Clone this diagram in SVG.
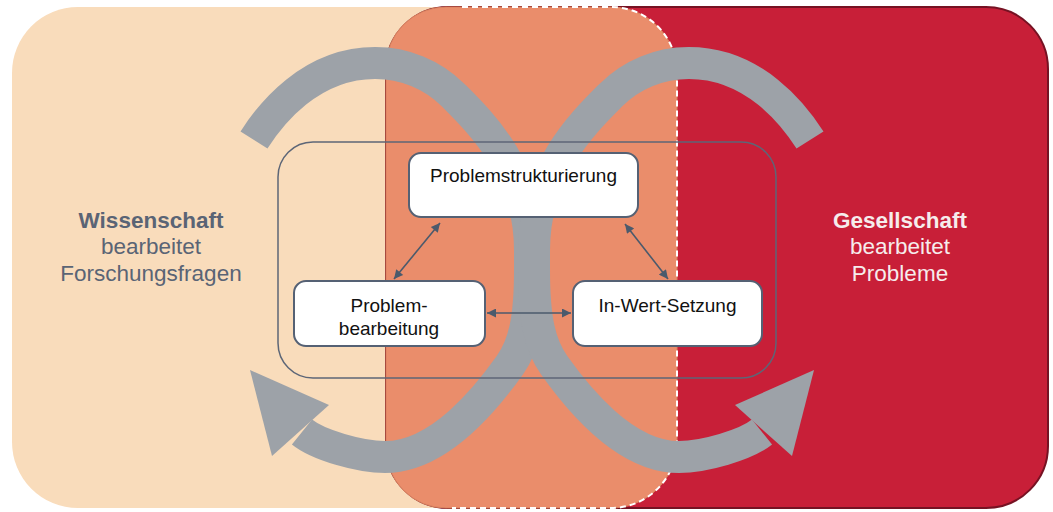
<svg xmlns="http://www.w3.org/2000/svg" xmlns:xlink="http://www.w3.org/1999/xlink" width="1053" height="512" viewBox="0 0 1053 512">
<style>
.band{fill:none;stroke:#9DA2A8;stroke-width:32;stroke-linecap:butt}
.head{fill:#9DA2A8}
.frame{fill:none;stroke:#5D6677;stroke-width:1.5}
.node{fill:#FFFFFF;stroke:#556174;stroke-width:2}
.ntext{font-family:"Liberation Sans",Arial,sans-serif;font-size:19px;fill:#111111;text-anchor:middle}
.conn{stroke:#4B5A6C;stroke-width:1.6;fill:none;marker-start:url(#ah);marker-end:url(#ah)}
.lab{font-family:"Liberation Sans",Arial,sans-serif;font-size:22.5px;text-anchor:middle}
.left{fill:#5A6475}
.right{fill:#F6ECEC}
.b{font-weight:bold}
</style>
<defs>
<marker id="ah" viewBox="0 0 10 10" refX="10" refY="5" markerWidth="11" markerHeight="9" markerUnits="userSpaceOnUse" orient="auto-start-reverse">
<path d="M0,0 L10,5 L0,10 z" fill="#4B5A6C"/>
</marker>
</defs>
<g id="background">
<rect x="12" y="7" width="665" height="501" rx="66" fill="#F9DCBB"/>
<rect x="386" y="7" width="662" height="501" rx="62" fill="#C81F38" stroke="#761223" stroke-width="2"/>
<path d="M446,7 L611,7 A66 66 0 0 1 677,73 L677,442 A66 66 0 0 1 611,508 L446,508 A60 60 0 0 1 386,448 L386,67 A60 60 0 0 1 446,7 Z" fill="#EA8D6B" stroke="#D9825F" stroke-width="1"/>
<path d="M462,7 L611,7 A66 66 0 0 1 677,73 L677,442 A66 66 0 0 1 611,508 L452,508" fill="none" stroke="#FFFFFF" stroke-width="2" stroke-dasharray="6 4"/>
</g>
<g id="cycle">
<g id="curveA">
<path class="band" d="M254,140 C270,115 310,63 375,63 A110 110 0 0 1 453,95 C480,122 530,170 530,250 L530,270 C530,320 524,345 510,365 C488,396 440,457 385,457 C360,457 318,445 302,432"/>
<polygon class="head" points="250,370 329,405 272,456"/>
</g>
<use xlink:href="#curveA" href="#curveA" transform="matrix(-1 0 0 1 1064 0)"/>
</g>
<g id="frame">
<rect class="frame" x="278" y="142" width="498" height="236" rx="35"/>
</g>
<g id="connectors">
<line class="conn" x1="440" y1="223" x2="394" y2="279"/>
<line class="conn" x1="625" y1="224" x2="668" y2="279"/>
<line class="conn" x1="487" y1="313" x2="571" y2="313"/>
</g>
<g id="node-problemstrukturierung">
<rect class="node" x="409" y="153" width="229" height="64" rx="12"/>
<text class="ntext" x="523.5" y="182">Problemstrukturierung</text>
</g>
<g id="node-problembearbeitung">
<rect class="node" x="294" y="281" width="191" height="65" rx="12"/>
<text class="ntext" x="389" y="312">Problem-</text>
<text class="ntext" x="389" y="335">bearbeitung</text>
</g>
<g id="node-inwertsetzung">
<rect class="node" x="573" y="281" width="189" height="65" rx="12"/>
<text class="ntext" x="667.5" y="312">In-Wert-Setzung</text>
</g>
<g id="label-wissenschaft">
<text class="lab left b" x="151" y="228">Wissenschaft</text>
<text class="lab left" x="151" y="254">bearbeitet</text>
<text class="lab left" x="151" y="281">Forschungsfragen</text>
</g>
<g id="label-gesellschaft">
<text class="lab right b" x="900" y="228">Gesellschaft</text>
<text class="lab right" x="900" y="254">bearbeitet</text>
<text class="lab right" x="900" y="281">Probleme</text>
</g>
</svg>
